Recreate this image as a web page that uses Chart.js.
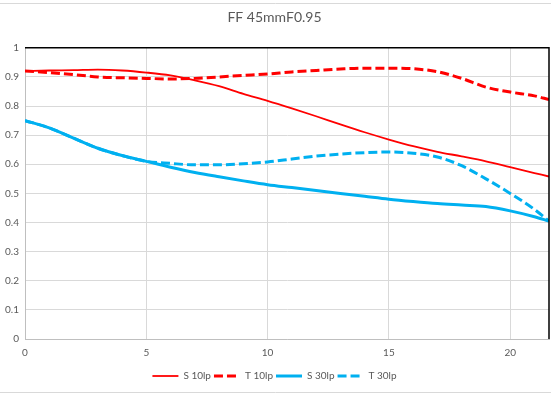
<!DOCTYPE html>
<html>
<head>
<meta charset="utf-8">
<script src="https://cdn.jsdelivr.net/npm/chart.js@4.4.1/dist/chart.umd.min.js"></script>
<style>
  html, body { margin: 0; padding: 0; background: #fff; }
  #wrap { width: 551px; height: 398px; }
</style>
</head>
<body>
<div id="wrap"><canvas id="c" width="551" height="398"></canvas></div>
<script>
// image height (mm) and MTF values
var heights = [0, 1, 2, 3, 4, 5, 6, 7, 8, 9, 10, 11, 12, 13, 14, 15, 16, 17, 18, 19, 20, 21, 21.6];
var s10 = [0.92, 0.922, 0.923, 0.925, 0.922, 0.915, 0.905, 0.888, 0.868, 0.842, 0.818, 0.792, 0.765, 0.737, 0.71, 0.685, 0.662, 0.643, 0.627, 0.61, 0.59, 0.57, 0.558];
var t10 = [0.92, 0.915, 0.908, 0.9, 0.897, 0.895, 0.893, 0.895, 0.9, 0.905, 0.91, 0.917, 0.922, 0.927, 0.93, 0.93, 0.928, 0.918, 0.895, 0.865, 0.848, 0.835, 0.822];
var s30 = [0.75, 0.725, 0.69, 0.655, 0.63, 0.61, 0.59, 0.572, 0.557, 0.543, 0.53, 0.52, 0.51, 0.5, 0.49, 0.48, 0.472, 0.465, 0.46, 0.455, 0.44, 0.42, 0.405];
var t30 = [0.75, 0.725, 0.69, 0.655, 0.63, 0.61, 0.603, 0.598, 0.598, 0.602, 0.608, 0.618, 0.628, 0.635, 0.64, 0.642, 0.638, 0.625, 0.595, 0.55, 0.5, 0.445, 0.405];
var seriesNames = ["S 10lp", "T 10lp", "S 30lp", "T 30lp"];
var xTicks = [0, 5, 10, 15, 20];
var xMax = 21.6;

function pts(vals) {
    return heights.map(function(h, i) { return {x: h, y: vals[i]}; });
}

var RED = "#ff0000";
var BLUE = "#00b0f0";
var DASH = [9, 4];

var frame = {
    id: "frame",
    beforeDraw: function(chart) {
        var ctx = chart.ctx;
        ctx.save();
        ctx.strokeStyle = "#d9d9d9";
        ctx.lineWidth = 1;
        ctx.beginPath();
        ctx.moveTo(0, 3.5); ctx.lineTo(551, 3.5);
        ctx.moveTo(0, 392.5); ctx.lineTo(551, 392.5);
        ctx.stroke();
        ctx.restore();
    },
    afterDatasetsDraw: function(chart) {
        var a = chart.chartArea, ctx = chart.ctx;
        ctx.save();
        ctx.strokeStyle = "#000";
        ctx.lineWidth = 1.5;
        ctx.beginPath();
        ctx.moveTo(a.left, a.top);
        ctx.lineTo(a.right, a.top);
        ctx.lineTo(a.right, a.bottom);
        ctx.stroke();
        ctx.restore();
    }
};

var font = "Lato, 'Open Sans', sans-serif";

new Chart(document.getElementById("c"), {
    type: "line",
    data: {
        datasets: [
            {label: seriesNames[0], data: pts(s10), borderColor: RED, backgroundColor: RED, borderWidth: 1.8},
            {label: seriesNames[1], data: pts(t10), borderColor: RED, backgroundColor: RED, borderWidth: 3, borderDash: DASH},
            {label: seriesNames[2], data: pts(s30), borderColor: BLUE, backgroundColor: BLUE, borderWidth: 3},
            {label: seriesNames[3], data: pts(t30), borderColor: BLUE, backgroundColor: BLUE, borderWidth: 3, borderDash: DASH}
        ]
    },
    options: {
        responsive: false,
        animation: false,
        layout: {padding: {left: 0, right: 2, top: 0, bottom: 7}},
        elements: {
            point: {radius: 0, hoverRadius: 0},
            line: {cubicInterpolationMode: "monotone", fill: false}
        },
        plugins: {
            title: {
                display: true,
                text: "FF 45mmF0.95",
                color: "#595959",
                font: {family: font, size: 14, weight: "normal"},
                padding: {top: 9, bottom: 22}
            },
            legend: {
                position: "bottom",
                labels: {
                    color: "#595959",
                    font: {family: font, size: 10},
                    usePointStyle: true,
                    pointStyle: "line",
                    pointStyleWidth: 26,
                    boxWidth: 26,
                    boxHeight: 8,
                    padding: 3,
                    generateLabels: function(chart) {
                        var items = Chart.defaults.plugins.legend.labels.generateLabels(chart);
                        items.forEach(function(it) {
                            var ds = chart.data.datasets[it.datasetIndex];
                            it.lineDash = ds.borderDash || [];
                            it.lineWidth = ds.borderWidth;
                            it.strokeStyle = ds.borderColor;
                        });
                        return items;
                    }
                }
            },
            tooltip: {enabled: false}
        },
        scales: {
            x: {
                type: "linear",
                min: 0,
                max: xMax,
                afterBuildTicks: function(axis) {
                    axis.ticks = xTicks.map(function(v) { return {value: v}; });
                },
                afterFit: function(axis) { axis.height = 29; },
                grid: {color: "#d9d9d9", lineWidth: 1, drawTicks: false},
                border: {color: "#bfbfbf", width: 1},
                ticks: {color: "#595959", font: {family: font, size: 10}, padding: 8, maxRotation: 0}
            },
            y: {
                min: 0,
                max: 1,
                afterFit: function(axis) { axis.width = 25; },
                grid: {color: "#d9d9d9", lineWidth: 1, drawTicks: false},
                border: {color: "#bfbfbf", width: 1},
                ticks: {
                    stepSize: 0.1,
                    color: "#595959",
                    font: {family: font, size: 10},
                    padding: 6,
                    callback: function(v) { return Math.round(v * 10) / 10; }
                }
            }
        }
    },
    plugins: [frame]
});
</script>
</body>
</html>
